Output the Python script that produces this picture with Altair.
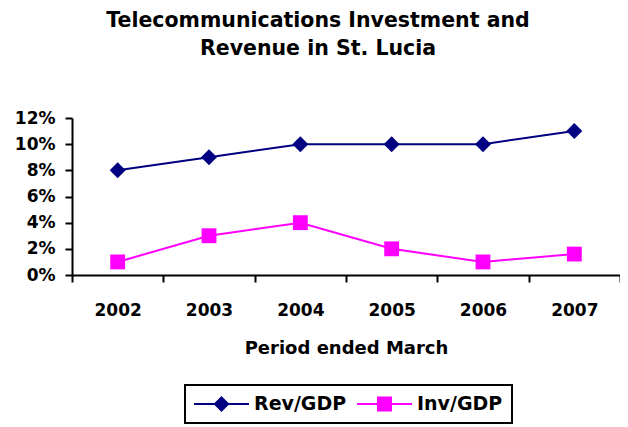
import altair as alt
import pandas as pd

years = ["2002", "2003", "2004", "2005", "2006", "2007"]
rev_gdp = [0.08, 0.09, 0.10, 0.10, 0.10, 0.11]
inv_gdp = [0.01, 0.03, 0.04, 0.02, 0.01, 0.016]
series_names = ["Rev/GDP", "Inv/GDP"]
series_colors = ["#000080", "#FF00FF"]
y_ticks = [0, 0.02, 0.04, 0.06, 0.08, 0.10, 0.12]

rows = []
for s, vals in zip(series_names, [rev_gdp, inv_gdp]):
    for yr, v in zip(years, vals):
        rows.append({"year": yr, "value": v, "series": s})
df = pd.DataFrame(rows)

# marker shapes for the plot (unit = sqrt(size)/2 px)
DIAMOND = "M0,-0.29L0.29,0L0,0.29L-0.29,0Z"
SQUARE = "M-0.27,-0.27H0.27V0.27H-0.27Z"
# legend symbols: a short line with the marker in its middle (unit = 10 px)
LEG_REV = "M-1,-0.1H4.5V0.1H-1Z M1.75,-0.8L2.55,0L1.75,0.8L0.95,0Z"
LEG_INV = "M-1,-0.1H4.5V0.1H-1Z M1,-0.75H2.5V0.75H1Z"

FONT = "DejaVu Sans"

x_enc = alt.X(
    "year:O",
    sort=years,
    scale=alt.Scale(type="band", paddingInner=0, paddingOuter=0),
    axis=alt.Axis(
        title="Period ended March",
        labelAngle=0,
        tickBand="extent",
        tickSize=7,
        tickWidth=2,
        domainWidth=2,
        labelPadding=20,
        labelFont=FONT,
        labelFontSize=17,
        labelFontWeight="bold",
        titleFont=FONT,
        titleFontSize=18,
        titleFontWeight="bold",
        titlePadding=21,
        grid=False,
    ),
)
y_enc = alt.Y(
    "value:Q",
    scale=alt.Scale(domain=[0, 0.12]),
    axis=alt.Axis(
        title=None,
        format=".0%",
        values=y_ticks,
        tickSize=7,
        tickWidth=2,
        domainWidth=2,
        labelPadding=10,
        labelFont=FONT,
        labelFontSize=17,
        labelFontWeight="bold",
        grid=False,
    ),
)

base = alt.Chart(df)

lines = base.mark_line(strokeWidth=2).encode(
    x=x_enc,
    y=y_enc,
    color=alt.Color("series:N", scale=alt.Scale(domain=series_names, range=series_colors), legend=None),
)

points = base.mark_point(filled=True, size=3025, opacity=1).encode(
    x=x_enc,
    y=y_enc,
    shape=alt.Shape("series:N", scale=alt.Scale(domain=series_names, range=[DIAMOND, SQUARE]), legend=None),
    fill=alt.Fill("series:N", scale=alt.Scale(domain=series_names, range=series_colors), legend=None),
)

leg = alt.Legend(
    orient="none",
    legendX=113,
    legendY=267,
    direction="horizontal",
    title=None,
    symbolSize=400,
    symbolStrokeWidth=0,
    labelFont=FONT,
    labelFontSize=19,
    labelFontWeight="bold",
    labelColor="black",
    labelOffset=40,
    columnPadding=10,
    padding=9,
    strokeColor="black",
    fillColor="white",
)

legend_layer = base.transform_filter("false").mark_point(filled=True, size=400, opacity=1).encode(
    x=x_enc,
    y=y_enc,
    shape=alt.Shape("series:N", scale=alt.Scale(domain=series_names, range=[LEG_REV, LEG_INV]), legend=leg),
    fill=alt.Fill("series:N", scale=alt.Scale(domain=series_names, range=series_colors), legend=leg),
)

chart = (
    alt.layer(lines, points, legend_layer)
    .resolve_scale(shape="independent", fill="independent")
    .properties(
        width=548,
        height=157,
        autosize=alt.AutoSizeParams(type="none"),
        padding={"left": 64, "top": 110, "right": 0, "bottom": 152},
        title=alt.TitleParams(
            text=["Telecommunications Investment and", "Revenue in St. Lucia"],
            font=FONT,
            fontSize=20.5,
            fontWeight="bold",
            color="black",
            anchor="middle",
            dx=-28,
            lineHeight=28,
            offset=50,
        ),
    )
    .configure_view(stroke=None)
    .configure_axis(labelColor="black", domainColor="black", tickColor="black", titleColor="black")
    .configure_legend(strokeWidth=2)
)

chart.save("out.html", embed_options={"renderer": "svg", "actions": False})
